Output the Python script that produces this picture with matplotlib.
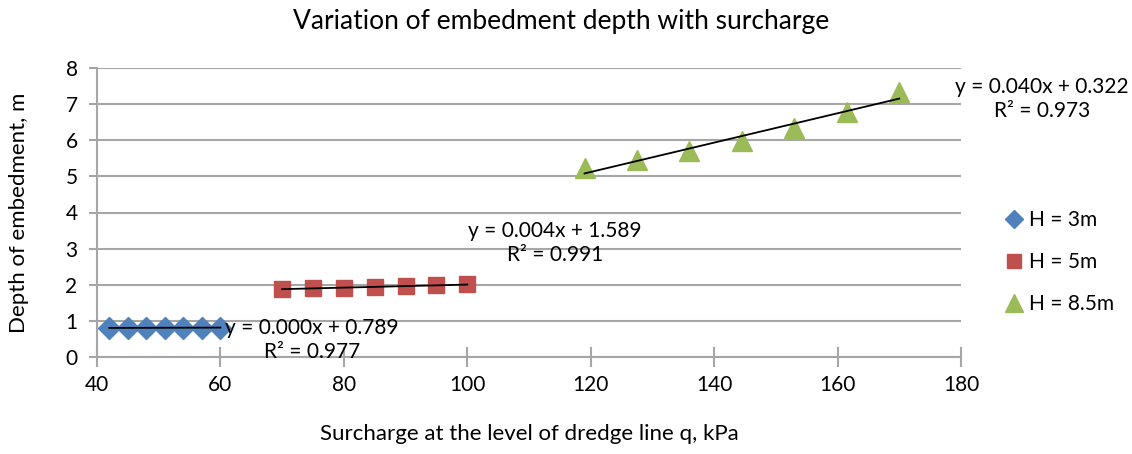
import numpy as np
import matplotlib
matplotlib.use("Agg")
import matplotlib.pyplot as plt

plt.rcParams['font.family'] = ['Lato', 'DejaVu Sans']

x_h3 = [42, 45, 48, 51, 54, 57, 60]
y_h3 = [0.805, 0.806, 0.808, 0.810, 0.811, 0.812, 0.814]
x_h5 = [70, 75, 80, 85, 90, 95, 100]
y_h5 = [1.88, 1.90, 1.92, 1.94, 1.96, 1.98, 2.01]
x_h85 = [119, 127.5, 136, 144.5, 153, 161.5, 170]
y_h85 = [5.22, 5.46, 5.69, 5.98, 6.34, 6.79, 7.34]

labels = ["H = 3m", "H = 5m", "H = 8.5m"]
eq_texts = ["y = 0.000x + 0.789\nR² = 0.977",
            "y = 0.004x + 1.589\nR² = 0.991",
            "y = 0.040x + 0.322\nR² = 0.973"]

fig = plt.figure(figsize=(11.32, 4.54), dpi=100)
ax = fig.add_axes([97/1132, 1 - 357/454, (961-97)/1132, (357-68)/454])

colors = ['#4F81BD', '#C0504D', '#9BBB59']
markers = ['D', 's', '^']
msizes = [11, 12, 15]
series = [(x_h3, y_h3), (x_h5, y_h5), (x_h85, y_h85)]

for (xs, ys), c, m, ms, lab in zip(series, colors, markers, msizes, labels):
    ax.plot(xs, ys, linestyle='none', marker=m, color=c, markersize=ms,
            markeredgecolor=c, label=lab, zorder=3)
    p = np.polyfit(xs, ys, 1)
    xx = np.array([min(xs), max(xs)])
    ax.plot(xx, np.polyval(p, xx), color='black', lw=1.3, zorder=4)

ax.set_xlim(40, 180)
ax.set_ylim(0, 8)
ax.set_xticks(np.arange(40, 181, 20))
ax.set_yticks(np.arange(0, 9, 1))
ax.yaxis.grid(True, color='#a6a6a6', lw=1.5)
ax.set_axisbelow(True)
for s in ['top', 'right']:
    ax.spines[s].set_visible(False)
for s in ['left', 'bottom']:
    ax.spines[s].set_color('#a6a6a6')
    ax.spines[s].set_linewidth(1.5)
ax.tick_params(axis='both', colors='#a6a6a6', labelcolor='black', labelsize=15,
               length=7, width=1.5)
ax.tick_params(axis='x', direction='inout', length=14, pad=6)
ax.tick_params(axis='y', direction='out', length=6, pad=8)

ax.set_xlabel("Surcharge at the level of dredge line q, kPa", fontsize=16, labelpad=21)
ax.set_ylabel("Depth of embedment, m", fontsize=16, labelpad=26)
fig.text(561/1132, 1 - 22/454, "Variation of embedment depth with surcharge",
         ha='center', va='center', fontsize=19)

ax.text(312/1132, 1 - 340/454, eq_texts[0], transform=fig.transFigure,
        ha='center', va='center', fontsize=15, linespacing=1.25)
ax.text(555/1132, 1 - 243/454, eq_texts[1], transform=fig.transFigure,
        ha='center', va='center', fontsize=15, linespacing=1.25)
ax.text(1042/1132, 1 - 99/454, eq_texts[2], transform=fig.transFigure,
        ha='center', va='center', fontsize=15, linespacing=1.25)

fig.legend(loc='center left', bbox_to_anchor=(983/1132, 1 - 262/454),
           frameon=False, fontsize=15, handletextpad=0.1, labelspacing=1.05,
           handlelength=1.2, markerscale=0.85)

fig.savefig("out.png", dpi=100)
